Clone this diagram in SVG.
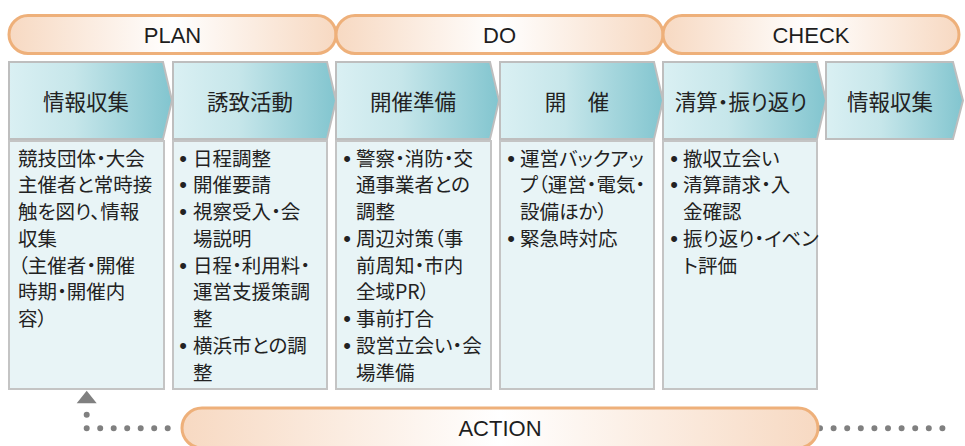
<svg xmlns="http://www.w3.org/2000/svg" width="965" height="446" viewBox="0 0 965 446">
<defs>
<linearGradient id="pillGrad" x1="0" y1="0" x2="1" y2="0">
<stop offset="0" stop-color="#F7D9C2"/>
<stop offset="0.5" stop-color="#FFFFFF"/>
<stop offset="1" stop-color="#F7D9C2"/>
</linearGradient>
<linearGradient id="chevGrad" x1="0" y1="0" x2="1" y2="0">
<stop offset="0" stop-color="#DAF0F3"/>
<stop offset="0.4" stop-color="#C6E6EA"/>
<stop offset="1" stop-color="#82C5CF"/>
</linearGradient>
<marker id="arrowUp" markerUnits="userSpaceOnUse" markerWidth="30" markerHeight="24" viewBox="0 -12 30 24" refX="0" refY="0" orient="auto-start-reverse" overflow="visible">
<path d="M 11.5 -10 L 24 0 L 11.5 10 Z" fill="#808080"/>
</marker>
</defs>
<style>
.pill{fill:url(#pillGrad);stroke:#EEB07A;stroke-width:3}
.pt{font-family:"Liberation Sans",Arial,sans-serif;font-size:22px;fill:#1E1E1E;text-anchor:middle}
.chev{fill:url(#chevGrad);stroke:#BEBEBE;stroke-width:2}
.ct{font-family:"Noto Sans CJK JP",sans-serif;font-size:21.5px;fill:#222;text-anchor:middle;font-feature-settings:"palt"}
.box{fill:#E8F4F6;stroke:#C4C4C4;stroke-width:2}
.bt{font-family:"Noto Sans CJK JP",sans-serif;font-size:19.5px;fill:#222;font-feature-settings:"palt"}
.b{font-family:"Liberation Sans",Arial,sans-serif;font-size:22px;text-anchor:middle}
.dots{fill:none;stroke:#808080;stroke-width:6;stroke-linecap:round}
</style>
<rect width="965" height="446" fill="#FFFFFF"/>

<g id="connectors">
<path class="dots" d="M 86.7 414.8 V 428.3 H 181.2" stroke-dasharray="0 13.5" marker-start="url(#arrowUp)"/>
<path class="dots" d="M 820 428.3 H 956" stroke-dasharray="0 13.6"/>
</g>

<g id="phase-plan"><rect class="pill" x="9" y="15.5" width="327" height="38" rx="19"/><text class="pt" x="172.5" y="42.5">PLAN</text></g>
<g id="phase-do"><rect class="pill" x="336" y="15.5" width="327" height="38" rx="19"/><text class="pt" x="499.5" y="42.5">DO</text></g>
<g id="phase-check"><rect class="pill" x="663" y="15.5" width="296" height="38" rx="19"/><text class="pt" x="811" y="42.5">CHECK</text></g>
<g id="phase-action"><rect class="pill" x="182" y="408" width="636" height="40" rx="20"/><text class="pt" x="500" y="436">ACTION</text></g>

<g id="step-1"><path class="chev" d="M 9 62 H 163 L 172 100.5 L 163 139 H 9 Z"/><text class="ct" x="86" y="109.8">情報収集</text></g>
<g id="step-2"><path class="chev" d="M 173 62 H 327 L 336 100.5 L 327 139 H 173 Z"/><text class="ct" x="250" y="109.8">誘致活動</text></g>
<g id="step-3"><path class="chev" d="M 336 62 H 490 L 499 100.5 L 490 139 H 336 Z"/><text class="ct" x="413" y="109.8">開催準備</text></g>
<g id="step-4"><path class="chev" d="M 500 62 H 654 L 663 100.5 L 654 139 H 500 Z"/><text class="ct" x="577" y="109.8">開　催</text></g>
<g id="step-5"><path class="chev" d="M 663 62 H 817 L 826 100.5 L 817 139 H 663 Z"/><text class="ct" x="741" y="109.8">清算・振り返り</text></g>
<g id="step-6"><path class="chev" d="M 826 62 H 953 L 963 100.5 L 953 139 H 826 Z"/><text class="ct" x="890" y="109.8">情報収集</text></g>

<g id="detail-1"><rect class="box" x="9" y="141" width="155" height="248"/>
<text class="bt">
<tspan x="18" y="165.5">競技団体・大会</tspan>
<tspan x="18" y="192.25">主催者と常時接</tspan>
<tspan x="18" y="219">触を図り、情報</tspan>
<tspan x="18" y="245.75">収集</tspan>
<tspan x="18" y="272.5">（主催者・開催</tspan>
<tspan x="18" y="299.25">時期・開催内</tspan>
<tspan x="18" y="326">容）</tspan>
</text></g>

<g id="detail-2"><rect class="box" x="173" y="141" width="154" height="248"/>
<text class="bt">
<tspan class="b" x="183" y="165.5">•</tspan><tspan x="193" y="165.5">日程調整</tspan>
<tspan class="b" x="183" y="192.25">•</tspan><tspan x="193" y="192.25">開催要請</tspan>
<tspan class="b" x="183" y="219">•</tspan><tspan x="193" y="219">視察受入・会</tspan>
<tspan x="193" y="245.75">場説明</tspan>
<tspan class="b" x="183" y="272.5">•</tspan><tspan x="193" y="272.5">日程・利用料・</tspan>
<tspan x="193" y="299.25">運営支援策調</tspan>
<tspan x="193" y="326">整</tspan>
<tspan class="b" x="183" y="352.75">•</tspan><tspan x="193" y="352.75">横浜市との調</tspan>
<tspan x="193" y="379.5">整</tspan>
</text></g>

<g id="detail-3"><rect class="box" x="336" y="141" width="155" height="248"/>
<text class="bt">
<tspan class="b" x="347" y="165.5">•</tspan><tspan x="356" y="165.5">警察・消防・交</tspan>
<tspan x="356" y="192.25">通事業者との</tspan>
<tspan x="356" y="219">調整</tspan>
<tspan class="b" x="347" y="245.75">•</tspan><tspan x="356" y="245.75">周辺対策（事</tspan>
<tspan x="356" y="272.5">前周知・市内</tspan>
<tspan x="356" y="299.25">全域PR）</tspan>
<tspan class="b" x="347" y="326">•</tspan><tspan x="356" y="326">事前打合</tspan>
<tspan class="b" x="347" y="352.75">•</tspan><tspan x="356" y="352.75">設営立会い・会</tspan>
<tspan x="356" y="379.5">場準備</tspan>
</text></g>

<g id="detail-4"><rect class="box" x="500" y="141" width="154" height="248"/>
<text class="bt">
<tspan class="b" x="511" y="165.5">•</tspan><tspan x="520" y="165.5">運営バックアッ</tspan>
<tspan x="520" y="192.25">プ（運営・電気・</tspan>
<tspan x="520" y="219">設備ほか）</tspan>
<tspan class="b" x="511" y="245.75">•</tspan><tspan x="520" y="245.75">緊急時対応</tspan>
</text></g>

<g id="detail-5"><rect class="box" x="663" y="141" width="154" height="248"/>
<text class="bt">
<tspan class="b" x="674" y="165.5">•</tspan><tspan x="683" y="165.5">撤収立会い</tspan>
<tspan class="b" x="674" y="192.25">•</tspan><tspan x="683" y="192.25">清算請求・入</tspan>
<tspan x="683" y="219">金確認</tspan>
<tspan class="b" x="674" y="245.75">•</tspan><tspan x="683" y="245.75">振り返り・イベン</tspan>
<tspan x="683" y="272.5">ト評価</tspan>
</text></g>
</svg>
